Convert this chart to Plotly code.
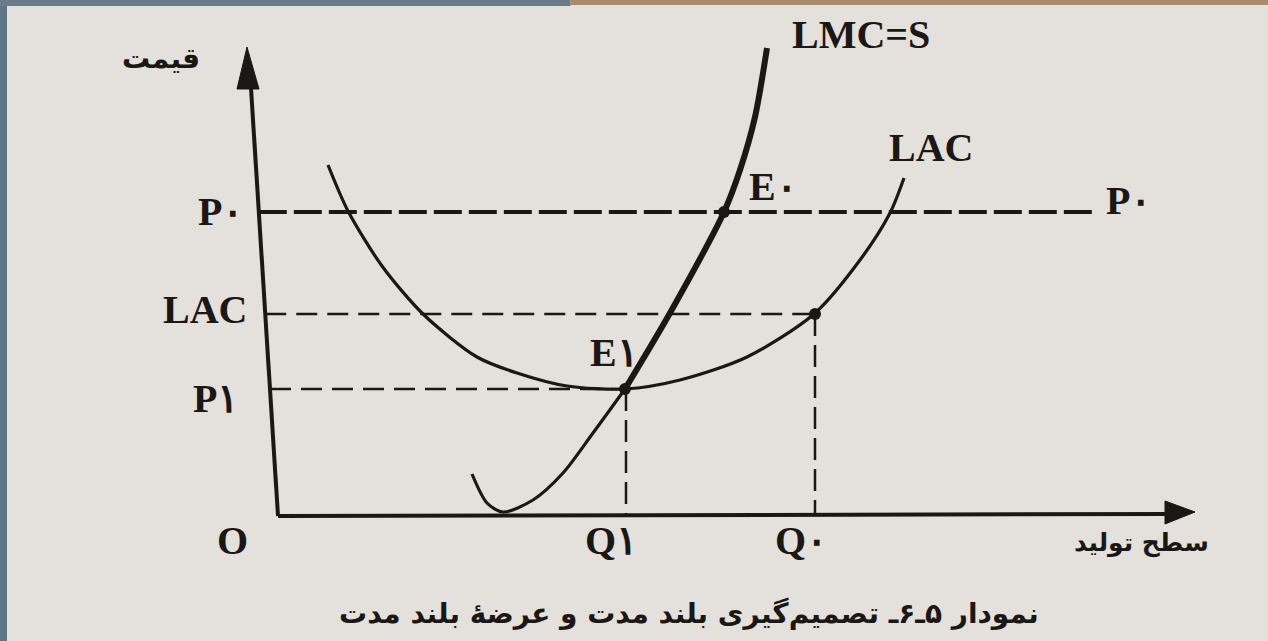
import plotly.graph_objects as go

# long-run average cost curve (quantity, price)
lac_q = [0.50, 0.70, 1.04, 1.45, 1.99, 2.39, 2.89, 3.47, 4.02, 4.69, 5.36, 5.82, 6.12, 6.26]
lac_p = [3.51, 3.05, 2.50, 2.02, 1.59, 1.43, 1.30, 1.27, 1.36, 1.59, 2.02, 2.56, 3.03, 3.38]

# long-run marginal cost below the LAC minimum (thin part)
lmc_q = [1.94, 2.09, 2.25, 2.55, 2.85, 3.15, 3.47]
lmc_p = [0.42, 0.13, 0.04, 0.16, 0.43, 0.83, 1.27]

# LMC above the LAC minimum = long-run supply (thick part)
supply_q = [3.47, 3.92, 4.46, 4.62, 4.77, 4.89]
supply_p = [1.27, 2.03, 3.04, 3.46, 3.99, 4.68]

# price levels and quantities marked on the axes
p0 = 3.04
lac_level = 2.02
p1 = 1.27
q1 = 3.48
q0 = 5.37
e0_q = 4.46
p0_line_end = 8.17

INK = "#1b1714"
PAGE = "#e4e1dd"
LATIN = "Liberation Serif, DejaVu Serif, serif"
FARSI = "DejaVu Sans, Noto Sans, sans-serif"

# the printed y axis leans a little to the left
Y_TOP = 4.28
Y_LEAN = -0.27 / Y_TOP


def axis_x(p):
    return Y_LEAN * p


fig = go.Figure()

# dashed guides
fig.add_trace(go.Scatter(x=[axis_x(p0), p0_line_end], y=[p0, p0], mode="lines",
                         line=dict(color=INK, width=4, dash="28px,7px"), hoverinfo="skip"))
fig.add_trace(go.Scatter(x=[axis_x(lac_level), q0], y=[lac_level, lac_level], mode="lines",
                         line=dict(color=INK, width=2.5, dash="21px,10px"), hoverinfo="skip"))
fig.add_trace(go.Scatter(x=[axis_x(p1), q1], y=[p1, p1], mode="lines",
                         line=dict(color=INK, width=2.5, dash="21px,10px"), hoverinfo="skip"))
fig.add_trace(go.Scatter(x=[q1, q1], y=[p1, 0], mode="lines",
                         line=dict(color=INK, width=2.5, dash="22px,9px"), hoverinfo="skip"))
fig.add_trace(go.Scatter(x=[q0, q0], y=[lac_level, 0], mode="lines",
                         line=dict(color=INK, width=2.5, dash="22px,9px"), hoverinfo="skip"))

# curves
fig.add_trace(go.Scatter(x=lac_q, y=lac_p, mode="lines",
                         line=dict(color=INK, width=3.2, shape="spline", smoothing=0.8), hoverinfo="skip"))
fig.add_trace(go.Scatter(x=lmc_q, y=lmc_p, mode="lines",
                         line=dict(color=INK, width=3.2, shape="spline", smoothing=0.8), hoverinfo="skip"))
fig.add_trace(go.Scatter(x=supply_q, y=supply_p, mode="lines",
                         line=dict(color=INK, width=6, shape="spline", smoothing=0.8), hoverinfo="skip"))

# equilibrium points
fig.add_trace(go.Scatter(x=[e0_q, lmc_q[-1], q0], y=[p0, p1, lac_level], mode="markers",
                         marker=dict(color=INK, size=12), hoverinfo="skip"))

# axes with arrow heads
fig.add_shape(type="line", x0=0, y0=0, x1=axis_x(Y_TOP), y1=Y_TOP, line=dict(color=INK, width=4))
fig.add_shape(type="path", path="M -0.31,4.69 L -0.41,4.27 L -0.19,4.27 Z",
              fillcolor=INK, line=dict(color=INK, width=1))
fig.add_shape(type="line", x0=axis_x(0), y0=0, x1=8.92, y1=0.02, line=dict(color=INK, width=4))
fig.add_shape(type="path", path="M 9.17,0.04 L 8.87,0.15 L 8.87,-0.08 Z",
              fillcolor=INK, line=dict(color=INK, width=1))

# photo borders
fig.add_shape(type="rect", xref="paper", yref="paper", x0=0, x1=7 / 1268, y0=0, y1=1,
              fillcolor="#5e7487", line_width=0, layer="above")
fig.add_shape(type="rect", xref="paper", yref="paper", x0=0, x1=0.45, y0=1 - 6 / 641, y1=1,
              fillcolor="#6a7c89", line_width=0, layer="above")
fig.add_shape(type="rect", xref="paper", yref="paper", x0=0.45, x1=1, y0=1 - 5 / 641, y1=1,
              fillcolor="#a78c6e", line_width=0, layer="above")


def label(text, x, y, size=40, font=LATIN, xanchor="center"):
    fig.add_annotation(x=x, y=y, text="<b>%s</b>" % text, showarrow=False, xanchor=xanchor, yanchor="middle",
                       font=dict(family=font, size=size, color=INK))


label("قیمت", -1.17, 4.58, size=28, font=FARSI)
label("P۰", -0.33, 3.05, xanchor="right")
label("LAC", -0.29, 2.07, xanchor="right")
label("P۱", -0.38, 1.18, xanchor="right")
label("O", -0.46, -0.24)
label("Q۱", 3.33, -0.24)
label("Q۰", 5.23, -0.24)
label("سطح تولید", 8.63, -0.27, size=25, font=FARSI)
label("E۰", 4.95, 3.30)
label("E۱", 3.36, 1.64)
label("LMC=S", 5.83, 4.82)
label("LAC", 6.53, 3.69)
label("P۰", 8.50, 3.16)
label("نمودار ۵ـ۶ـ تصمیم‌گیری بلند مدت و عرضهٔ بلند مدت", 4.11, -0.97, size=28, font=FARSI)

fig.update_layout(
    width=1268,
    height=641,
    margin=dict(l=0, r=0, t=0, b=0),
    paper_bgcolor=PAGE,
    plot_bgcolor=PAGE,
    showlegend=False,
    xaxis=dict(range=[-2.78, 9.90], visible=False, fixedrange=True),
    yaxis=dict(range=[-1.25, 5.16], visible=False, fixedrange=True),
)

fig.write_html("out.html", config={"displayModeBar": False},
               post_script="document.body.style.margin='0';document.body.style.background='%s';" % PAGE)
